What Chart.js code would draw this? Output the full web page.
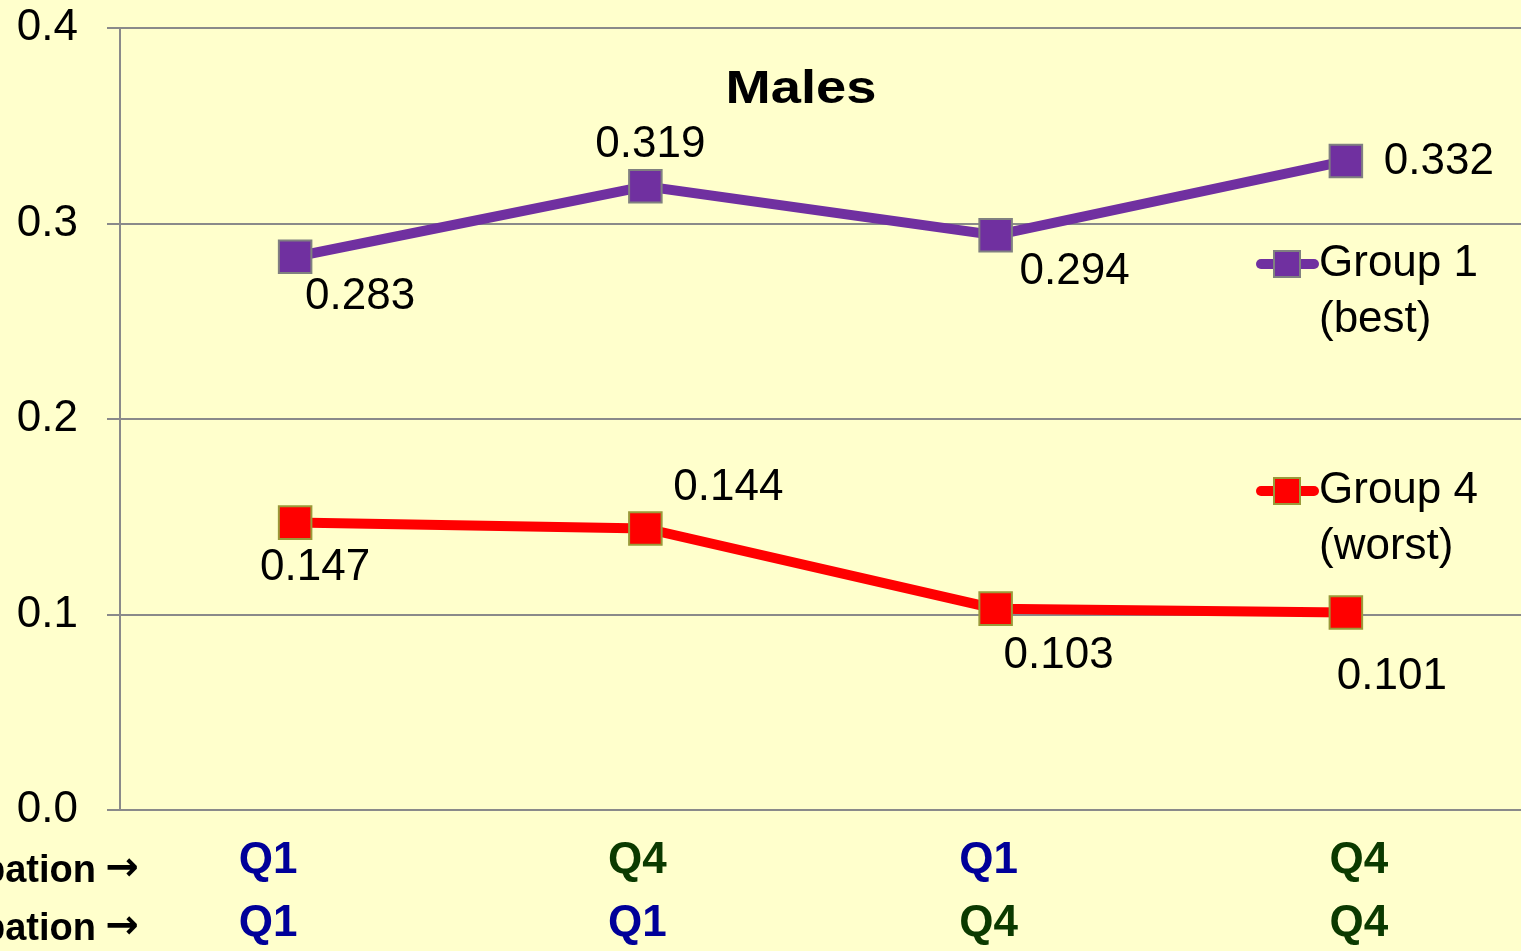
<!DOCTYPE html>
<html lang="en">
<head>
  <meta charset="UTF-8">
  <title>Males</title>
  <script src="https://cdn.jsdelivr.net/npm/chart.js"></script>
  <style>
    body {
      margin: 0;
      background-color: #ffffcc;
      overflow: hidden;
    }
    canvas {
      display: block;
    }
  </style>
</head>
<body>
  <canvas id="grafico" width="1521" height="951"></canvas>

  <script>
    // datos
    const categorias = ['Q1', 'Q4', 'Q1', 'Q4'];
    const categorias2 = ['Q1', 'Q1', 'Q4', 'Q4'];
    const filaEtiquetas = ["Father's occupation", "Own occupation"];
    const grupo1 = [0.283, 0.319, 0.294, 0.332];
    const grupo4 = [0.147, 0.144, 0.103, 0.101];
    const nombres = [['Group 1', '(best)'], ['Group 4', '(worst)']];
    const yTicks = [0, 0.1, 0.2, 0.3, 0.4];

    // desplazamiento de las etiquetas de cada punto (px)
    const offsets1 = [[65, 40], [5, -41], [79, 37], [93, 1]];
    const offsets4 = [[20, 45], [83, -41], [63, 47], [46, 64]];
    // desplazamiento horizontal de las etiquetas Q
    const qDx = [-27, -8, -7, 13];

    const AZUL = '#000099';
    const VERDE = '#0b3a00';
    const GRIS = '#8a8a8a';
    const FUENTE = "'Liberation Sans', Arial, sans-serif";

    const extras = {
      id: 'extras',
      afterDatasetsDraw(chart) {
        const ctx = chart.ctx;
        ctx.save();
        ctx.fillStyle = '#000';
        ctx.textAlign = 'center';
        ctx.textBaseline = 'middle';

        // titulo
        ctx.save();
        ctx.translate(801, 90);
        ctx.scale(1.18, 1);
        ctx.font = 'bold 46px ' + FUENTE;
        ctx.fillText('Males', 0, 0);
        ctx.restore();

        // etiquetas de datos
        ctx.font = '44px ' + FUENTE;
        [offsets1, offsets4].forEach((offs, d) => {
          const meta = chart.getDatasetMeta(d);
          const vals = chart.data.datasets[d].data;
          meta.data.forEach((p, i) => {
            ctx.fillText(vals[i].toFixed(3), p.x + offs[i][0], p.y + offs[i][1]);
          });
        });

        // leyenda
        const leyY = [264, 491];
        chart.data.datasets.forEach((ds, d) => {
          const y = leyY[d];
          ctx.strokeStyle = ds.borderColor;
          ctx.lineWidth = 10;
          ctx.lineCap = 'round';
          ctx.beginPath();
          ctx.moveTo(1261, y);
          ctx.lineTo(1314, y);
          ctx.stroke();
          ctx.fillStyle = ds.pointBackgroundColor;
          ctx.fillRect(1274, y - 13, 26, 26);
          ctx.strokeStyle = ds.pointBorderColor;
          ctx.lineWidth = 2;
          ctx.strokeRect(1274, y - 13, 26, 26);
          ctx.fillStyle = '#000';
          ctx.textAlign = 'left';
          ctx.font = '44px ' + FUENTE;
          ctx.fillText(nombres[d][0], 1319, y);
          ctx.fillText(nombres[d][1], 1319, y + 56);
        });

        // etiquetas Q del eje x (dos filas)
        const xs = chart.scales.x;
        ctx.textAlign = 'center';
        ctx.textBaseline = 'alphabetic';
        ctx.font = 'bold 44px ' + FUENTE;
        [categorias, categorias2].forEach((fila, r) => {
          const yb = r === 0 ? 873 : 936;
          fila.forEach((q, i) => {
            ctx.fillStyle = q === 'Q1' ? AZUL : VERDE;
            ctx.fillText(q, xs.getPixelForValue(i) + qDx[i], yb);
          });
        });

        // nombres de las filas del eje x
        ctx.fillStyle = '#000';
        ctx.textAlign = 'right';
        [882, 940].forEach((yb, r) => {
          ctx.font = "bold 40px 'DejaVu Sans', sans-serif";
          ctx.fillText('\u2192', 139, yb - 2);
          ctx.font = 'bold 38px ' + FUENTE;
          ctx.fillText(filaEtiquetas[r], 96, yb);
        });
        ctx.restore();
      }
    };

    new Chart(document.getElementById('grafico').getContext('2d'), {
      type: 'line',
      data: {
        labels: categorias,
        datasets: [
          {
            label: 'Group 1 (best)',
            data: grupo1,
            borderColor: '#7030a0',
            borderWidth: 10,
            pointStyle: 'rect',
            pointRadius: 23,
            pointBackgroundColor: '#7030a0',
            pointBorderColor: '#808080',
            pointBorderWidth: 2,
            tension: 0
          },
          {
            label: 'Group 4 (worst)',
            data: grupo4,
            borderColor: '#ff0000',
            borderWidth: 10,
            pointStyle: 'rect',
            pointRadius: 23,
            pointBackgroundColor: '#ff0000',
            pointBorderColor: '#9a9a3a',
            pointBorderWidth: 2,
            tension: 0
          }
        ]
      },
      options: {
        responsive: false,
        animation: false,
        layout: {
          autoPadding: false,
          padding: { top: 28, right: 0, left: 0, bottom: 0 }
        },
        plugins: {
          legend: { display: false },
          tooltip: { enabled: false },
          title: { display: false }
        },
        scales: {
          y: {
            min: 0,
            max: 0.4,
            afterFit: s => {
              s.width = 120;
              s.paddingTop = 0;
              s.paddingBottom = 0;
            },
            afterBuildTicks: s => { s.ticks = yTicks.map(v => ({ value: v })); },
            ticks: {
              padding: 29,
              color: '#000',
              font: { family: FUENTE, size: 44 },
              callback: v => Number(v).toFixed(1)
            },
            grid: { color: GRIS, lineWidth: 2, tickLength: 13 },
            border: { color: GRIS, width: 2 }
          },
          x: {
            offset: true,
            afterFit: s => {
              s.height = 141;
              s.paddingLeft = 0;
              s.paddingRight = 0;
            },
            grid: { display: false },
            border: { display: false },
            ticks: { display: false }
          }
        }
      },
      plugins: [extras]
    });
  </script>
</body>
</html>
